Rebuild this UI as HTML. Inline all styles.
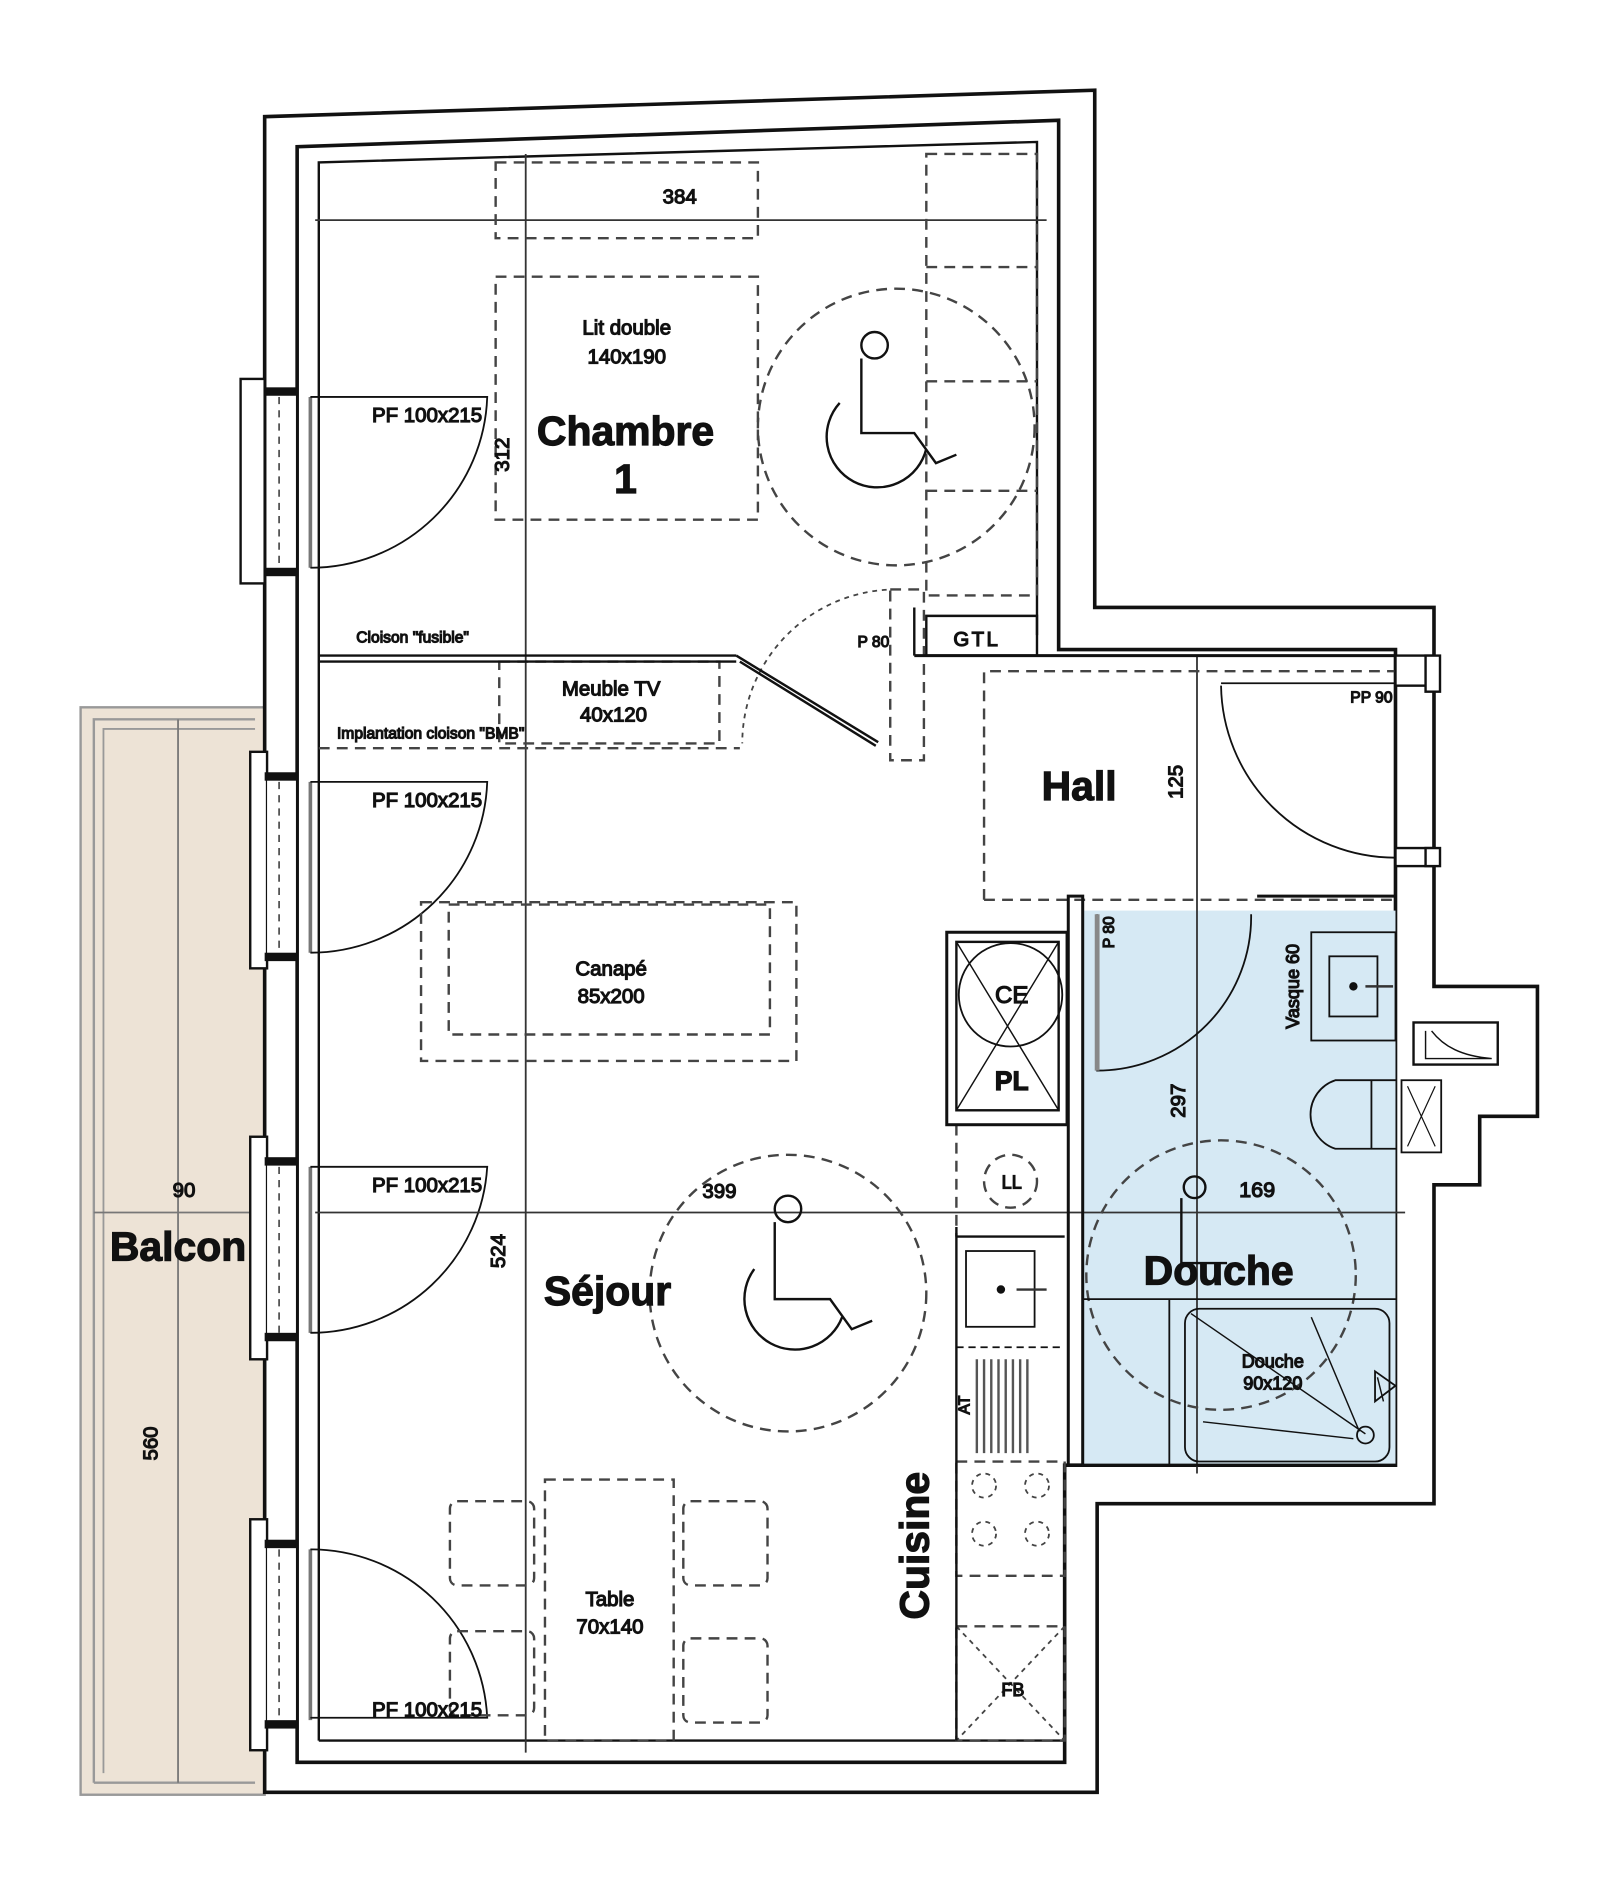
<!DOCTYPE html>
<html><head><meta charset="utf-8"><style>
html,body{margin:0;padding:0;background:#fff;}
svg{display:block;}
text{font-family:"Liberation Sans",sans-serif;fill:#111;}
.b{font-weight:bold;font-size:34px;text-anchor:middle;}
.s{font-size:17px;text-anchor:middle;}
.t{font-size:13px;}
</style></head><body>
<svg width="1600" height="1903" viewBox="0 0 1330 1582" preserveAspectRatio="none" xmlns="http://www.w3.org/2000/svg">
<g fill="none" stroke="#111">
<!-- balcony -->
<rect x="67" y="588" width="153" height="904" fill="#ede3d6" stroke="#999" stroke-width="2"/>
<path d="M78 1482 V598 H212 M78 1482 H212" stroke="#999" stroke-width="2"/>
<path d="M86 1474 V606 H212" stroke="#999" stroke-width="1.5"/>
<line x1="148" y1="598" x2="148" y2="1482" stroke="#777" stroke-width="1.5"/>
<line x1="78" y1="1008" x2="265" y2="1008" stroke="#777" stroke-width="1.5"/>

<!-- walls outer/inner -->
<path d="M220 1490 V97 L910 75 V505 H1192 V820 H1278 V928 H1230 V985 H1192 V1250 H912 V1490 Z" fill="#fff" stroke-width="3"/>
<path d="M247 1465 V122 L880 100 V540 H1160 V1218 H885 V1465 Z" fill="#fff" stroke-width="3"/>
<!-- douche blue -->
<rect x="900" y="757" width="260" height="461" fill="#d6e9f4" stroke="none"/>
<!-- room thin lines -->
<path d="M265 1447 V135 L862 118 V528" stroke-width="2"/>
<line x1="265" y1="1447" x2="885" y2="1447" stroke-width="2"/>
<!-- window notches -->
<g fill="#fff" stroke-width="2">
<rect x="200" y="315" width="20" height="170"/>
<rect x="208" y="625" width="14" height="180"/>
<rect x="208" y="945" width="14" height="185"/>
<rect x="208" y="1263" width="14" height="192"/>
</g>
<g fill="#fff" stroke="none">
<rect x="222" y="328" width="24" height="146"/>
<rect x="222" y="648" width="24" height="146"/>
<rect x="222" y="968" width="24" height="144"/>
<rect x="222" y="1286" width="24" height="146"/>
</g>
<g fill="#111" stroke="none">
<rect x="220" y="322" width="27" height="7"/><rect x="220" y="472" width="27" height="7"/>
<rect x="220" y="642" width="27" height="7"/><rect x="220" y="792" width="27" height="7"/>
<rect x="220" y="962" width="27" height="7"/><rect x="220" y="1108" width="27" height="7"/>
<rect x="220" y="1280" width="27" height="7"/><rect x="220" y="1430" width="27" height="7"/>
</g>
<g stroke-width="1.5" stroke-dasharray="6 5" stroke="#555">
<line x1="232" y1="330" x2="232" y2="472"/><line x1="232" y1="650" x2="232" y2="792"/>
<line x1="232" y1="970" x2="232" y2="1108"/><line x1="232" y1="1288" x2="232" y2="1430"/>
</g>
<g stroke="#777" stroke-width="3">
<line x1="258" y1="330" x2="258" y2="472"/><line x1="258" y1="650" x2="258" y2="792"/>
<line x1="258" y1="970" x2="258" y2="1108"/><line x1="258" y1="1288" x2="258" y2="1430"/>
</g>
<!-- PF doors -->
<g stroke-width="1.5">
<path d="M258 330 H405 A147 147 0 0 1 258 472"/>
<path d="M258 650 H405 A147 147 0 0 1 258 792"/>
<path d="M258 970 H405 A147 147 0 0 1 258 1108"/>
<path d="M258 1428 H405 A147 147 0 0 0 258 1288"/>
</g>
<!-- dims -->
<g stroke="#333" stroke-width="1.5">
<line x1="262" y1="183" x2="870" y2="183"/>
<line x1="437" y1="128" x2="437" y2="1457"/>
<line x1="262" y1="1008" x2="1168" y2="1008"/>
<line x1="995" y1="545" x2="995" y2="1225"/>
</g>
<!-- chambre furniture -->
<g stroke="#444" stroke-width="2" stroke-dasharray="9 6">
<rect x="412" y="135" width="218" height="63"/>
<rect x="412" y="230" width="218" height="202"/>
<rect x="770" y="128" width="92" height="367"/>
<line x1="770" y1="222" x2="862" y2="222"/><line x1="770" y1="317" x2="862" y2="317"/><line x1="770" y1="408" x2="862" y2="408"/>
<circle cx="745" cy="355" r="115"/>
<circle cx="655" cy="1075" r="115"/>
<circle cx="1015" cy="1060" r="112"/>
<rect x="415" y="550" width="183" height="68"/>
<line x1="265" y1="622" x2="615" y2="622"/>
<rect x="740" y="490" width="28" height="142"/>
<path d="M818 748 V558 H1160 M818 748 H1160"/>
<rect x="350" y="750" width="312" height="132"/>
<rect x="373" y="752" width="267" height="108"/>
<rect x="453" y="1230" width="107" height="217"/>
<rect x="374" y="1248" width="70" height="70" rx="6"/>
<rect x="374" y="1356" width="70" height="70" rx="6"/>
<rect x="568" y="1248" width="70" height="70" rx="6"/>
<rect x="568" y="1362" width="70" height="70" rx="6"/>
<rect x="795" y="1215" width="90" height="95"/>
<rect x="795" y="1352" width="90" height="95"/>
<line x1="795" y1="935" x2="795" y2="1028"/>
<circle cx="840" cy="982" r="22"/>
<rect x="960" y="955" width="0" height="180"/>
</g>
<g stroke="#444" stroke-width="1.5" stroke-dasharray="4 4">
<circle cx="818" cy="1235" r="10"/><circle cx="862" cy="1235" r="10"/>
<circle cx="818" cy="1275" r="10"/><circle cx="862" cy="1275" r="10"/>
<line x1="795" y1="1352" x2="885" y2="1447"/><line x1="885" y1="1352" x2="795" y2="1447"/>
<path d="M745 490 A128 128 0 0 0 617 618"/>
</g>
<!-- wheelchairs -->
<g stroke-width="2">
<circle cx="727" cy="287" r="11"/><path d="M716 298 V360 H760 L778 385 L795 378 M698 335 A42 42 0 1 0 770 373"/>
<circle cx="655" cy="1005" r="11"/><path d="M644 1016 V1080 H690 L708 1105 L725 1098 M627 1055 A42 42 0 1 0 700 1095"/>
<circle cx="993" cy="987" r="9"/><path d="M982 996 V1050 H1020"/>
</g>
<!-- cloison & door -->
<g stroke-width="2">
<line x1="265" y1="545" x2="612" y2="545"/><line x1="265" y1="550" x2="612" y2="550"/>
<line x1="612" y1="545" x2="730" y2="617"/><line x1="615" y1="550" x2="728" y2="620"/>
<path d="M760 505 V545 M770 512 H862 V545 H770 Z"/>
<line x1="760" y1="545" x2="1160" y2="545" stroke-width="2.5"/>
<!-- PP90 -->
<path d="M1015 568 H1160 M1015 570 A145 145 0 0 0 1160 713" stroke-width="1.5"/>
<rect x="1160" y="545" width="32" height="25" fill="#fff"/>
<rect x="1160" y="705" width="32" height="15" fill="#fff"/>
<rect x="1185" y="545" width="12" height="30" fill="#fff"/>
<rect x="1185" y="705" width="12" height="15" fill="#fff"/>
<!-- bathroom walls -->
<path d="M888 1218 V745 H900 V1218 M1045 745 H1160" stroke-width="2.5"/>
<line x1="900" y1="1218" x2="1160" y2="1218" stroke-width="2.5"/>
<line x1="900" y1="1080" x2="1160" y2="1080" stroke-width="1.5"/>
<line x1="972" y1="1080" x2="972" y2="1218" stroke-width="1.5"/>
<path d="M912 760 V890 A128 128 0 0 0 1040 760" stroke-width="1.5"/>
<line x1="912" y1="760" x2="912" y2="890" stroke="#888" stroke-width="4"/>
<rect x="1090" y="775" width="70" height="90" stroke-width="1.5"/>
<rect x="1105" y="795" width="40" height="50" stroke-width="1.5"/>
<path d="M1160 898 H1110 A30 30 0 0 0 1110 955 H1160 M1140 898 V955" stroke-width="1.5"/>
<rect x="1165" y="898" width="33" height="60" stroke-width="1.5"/>
<path d="M1170 903 L1193 953 M1193 903 L1170 953" stroke-width="1"/>
<rect x="1175" y="850" width="70" height="35" fill="#fff" stroke-width="2"/>
<path d="M1185 857 V880 H1240 C1215 878 1200 870 1190 857" stroke-width="1.2"/>
<rect x="985" y="1088" width="170" height="127" rx="12" stroke-width="1.5"/>
<path d="M990 1092 L1135 1192 M1090 1095 L1130 1190 M1145 1145 L1150 1165 M1000 1182 L1125 1196" stroke-width="1.2"/>
<circle cx="1135" cy="1193" r="7" stroke-width="1.5"/>
<path d="M1143 1140 L1160 1152 L1143 1165 Z" stroke-width="1.5"/>
<!-- kitchen -->
<rect x="787" y="775" width="100" height="160" fill="#fff" stroke-width="2.5"/>
<rect x="795" y="783" width="85" height="140" stroke-width="2"/>
<path d="M795 783 L880 923 M880 783 L795 923" stroke-width="1.2"/>
<circle cx="840" cy="827" r="43" stroke-width="1.5"/>
<path d="M795 1028 H885 M795 1020 V1447" stroke-width="2"/>
<rect x="803" y="1040" width="57" height="63" stroke-width="1.5"/>
<line x1="795" y1="1120" x2="885" y2="1120" stroke-dasharray="6 4" stroke-width="1.5"/>
</g>
<g stroke="#555" stroke-width="2">
<line x1="812" y1="1130" x2="812" y2="1208"/><line x1="818" y1="1130" x2="818" y2="1208"/><line x1="824" y1="1130" x2="824" y2="1208"/><line x1="830" y1="1130" x2="830" y2="1208"/><line x1="836" y1="1130" x2="836" y2="1208"/><line x1="842" y1="1130" x2="842" y2="1208"/><line x1="848" y1="1130" x2="848" y2="1208"/><line x1="854" y1="1130" x2="854" y2="1208"/>
</g>
<circle cx="832" cy="1072" r="3" fill="#111"/><line x1="845" y1="1072" x2="870" y2="1072" stroke="#333" stroke-width="2"/>
<circle cx="1125" cy="820" r="3" fill="#111"/><line x1="1135" y1="820" x2="1158" y2="820" stroke="#333" stroke-width="2"/>

<!-- labels -->
<text x="565" y="169" class="s">384</text>
<text x="521" y="278" class="s">Lit double</text>
<text x="521" y="302" class="s">140x190</text>
<text x="520" y="370" class="b">Chambre</text>
<text x="520" y="410" class="b">1</text>
<text x="355" y="351" class="s">PF 100x215</text>
<text x="355" y="671" class="s">PF 100x215</text>
<text x="355" y="991" class="s">PF 100x215</text>
<text x="355" y="1427" class="s">PF 100x215</text>
<text x="423" y="378" class="s" transform="rotate(-90 423 378)">312</text>
<text x="343" y="534" class="t" text-anchor="middle">Cloison "fusible"</text>
<text x="508" y="578" class="s">Meuble TV</text>
<text x="510" y="600" class="s">40x120</text>
<text x="358" y="614" class="t" text-anchor="middle">Implantation cloison "BMB"</text>
<text x="726" y="538" class="t" text-anchor="middle">P 80</text>
<text x="812" y="537" class="s" style="letter-spacing:2px">GTL</text>
<text x="897" y="665" class="b">Hall</text>
<text x="983" y="650" class="s" transform="rotate(-90 983 650)">125</text>
<text x="1140" y="584" class="t" text-anchor="middle">PP 90</text>
<text x="926" y="775" class="t" text-anchor="middle" transform="rotate(-90 926 775)">P 80</text>
<text x="1080" y="820" class="t" text-anchor="middle" transform="rotate(-90 1080 820)" style="font-size:15px">Vasque 60</text>
<text x="841" y="834" class="s" style="font-size:20px">CE</text>
<text x="841" y="906" class="s" style="font-weight:bold;font-size:22px">PL</text>
<text x="841" y="988" class="t" text-anchor="middle" style="font-size:15px">LL</text>
<text x="985" y="915" class="s" transform="rotate(-90 985 915)">297</text>
<text x="1030" y="995" class="s" style="text-anchor:start;font-size:18px" x="1010">169</text>
<text x="1013" y="1068" class="b">Douche</text>
<text x="1058" y="1137" class="s" style="font-size:15px">Douche</text>
<text x="1058" y="1155" class="s" style="font-size:15px">90x120</text>
<text x="508" y="811" class="s">Canapé</text>
<text x="508" y="834" class="s">85x200</text>
<text x="598" y="996" class="s">399</text>
<text x="420" y="1040" class="s" transform="rotate(-90 420 1040)">524</text>
<text x="505" y="1085" class="b">Séjour</text>
<text x="153" y="995" class="s">90</text>
<text x="148" y="1048" class="b">Balcon</text>
<text x="131" y="1200" class="s" transform="rotate(-90 131 1200)">560</text>
<text x="806" y="1168" class="t" text-anchor="middle" transform="rotate(-90 806 1168)">AT</text>
<text x="507" y="1335" class="s">Table</text>
<text x="507" y="1358" class="s">70x140</text>
<text x="772" y="1285" class="b" transform="rotate(-90 772 1285)">Cuisine</text>
<text x="842" y="1410" class="t" text-anchor="middle" style="font-size:15px">FB</text>
</svg>
</body></html>
